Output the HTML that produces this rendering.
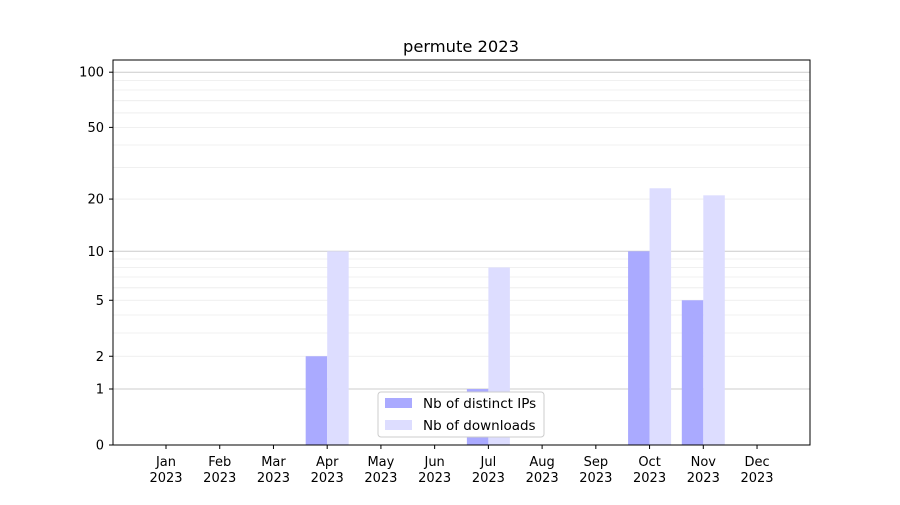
<!DOCTYPE html>
<html><head><meta charset="utf-8"><style>
html,body{margin:0;padding:0;background:#fff;}
text{font-family:"DejaVu Sans","Liberation Sans",sans-serif;}
</style></head><body>
<svg width="900" height="500" xmlns="http://www.w3.org/2000/svg">
<rect width="900" height="500" fill="#fff"/>
<g id="grid"></g>
<g id="bars"></g>
<rect x="113" y="60" width="697" height="385" fill="none" stroke="#000" stroke-width="1"/>
<g id="ticks" font-size="13"></g>
<text x="461" y="52" font-size="16.3" text-anchor="middle">permute 2023</text>
<g>
<rect x="378" y="392" width="166" height="45" fill="#fff" stroke="#ccc" rx="3"/>
<rect x="385" y="398" width="27" height="10" fill="#aaaaff"/>
<text x="423" y="408" font-size="13.5">Nb of distinct IPs</text>
<rect x="385" y="420" width="27" height="10" fill="#ddddff"/>
<text x="423" y="430" font-size="13.5">Nb of downloads</text>
</g>
</svg>
<script>
const ns="http://www.w3.org/2000/svg";
function Y(v){return 445-186*Math.log10(1+v);}
function el(p,t,a,txt){const e=document.createElementNS(ns,t);for(const k in a)e.setAttribute(k,a[k]);if(txt!==undefined)e.textContent=txt;document.getElementById(p).appendChild(e);return e;}
const minors=[2,3,4,5,6,7,8,9,20,30,40,50,60,70,80,90];
minors.forEach(v=>el("grid","line",{x1:113,x2:810,y1:Y(v),y2:Y(v),stroke:"#ebebeb","stroke-width":0.8}));
[1,10,100].forEach(v=>el("grid","line",{x1:113,x2:810,y1:Y(v),y2:Y(v),stroke:"#cccccc","stroke-width":1}));
const c0=166,sp=53.73,w=21.5;
const ips={3:2,6:1,9:10,10:5}, dl={3:10,6:8,9:23,10:21};
for(const m in ips){const x=c0+sp*m;el("bars","rect",{x:x-w,y:Y(ips[m]),width:w,height:445-Y(ips[m]),fill:"#aaaaff"});}
for(const m in dl){const x=c0+sp*m;el("bars","rect",{x:x,y:Y(dl[m]),width:w,height:445-Y(dl[m]),fill:"#ddddff"});}
[0,1,2,5,10,20,50,100].forEach(v=>{const y=Y(v);el("ticks","line",{x1:109,x2:113,y1:y,y2:y,stroke:"#000"});el("ticks","text",{x:104,y:y+4.5,"text-anchor":"end"},String(v));});
const mn=["Jan","Feb","Mar","Apr","May","Jun","Jul","Aug","Sep","Oct","Nov","Dec"];
mn.forEach((m,i)=>{const x=c0+sp*i;el("ticks","line",{x1:x,x2:x,y1:445,y2:449,stroke:"#000"});el("ticks","text",{x:x,y:466,"text-anchor":"middle"},m);el("ticks","text",{x:x,y:482,"text-anchor":"middle"},"2023");});
</script>
</body></html>
